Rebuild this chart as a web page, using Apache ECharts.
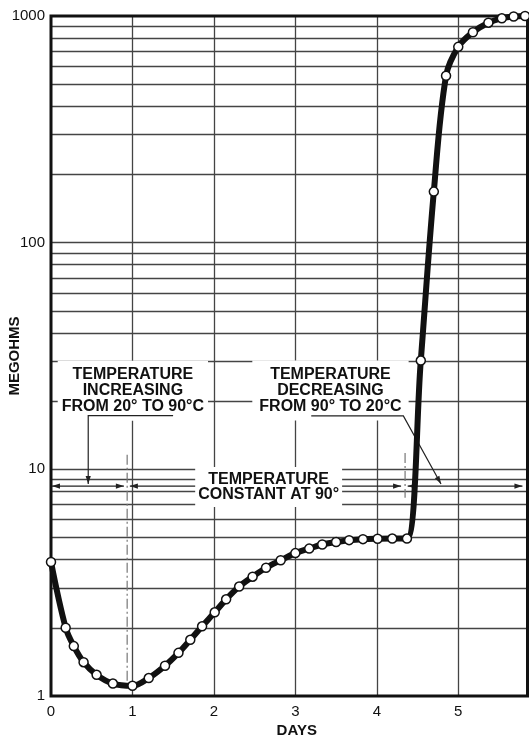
<!DOCTYPE html>
<html><head><meta charset="utf-8">
<script src="https://cdn.jsdelivr.net/npm/echarts@6/dist/echarts.min.js"></script>
<style>html,body{margin:0;padding:0;background:#fff}#c{width:529px;height:737px}</style>
</head><body><div id="c"></div>
<script>
// ---- data ----
const days = [0, 0.18, 0.28, 0.40, 0.56, 0.76, 1.00, 1.20, 1.40, 1.565, 1.71, 1.855, 2.01, 2.15, 2.31, 2.475, 2.64, 2.82, 3.00, 3.17, 3.33, 3.50, 3.66, 3.83, 4.01, 4.19, 4.37, 4.54, 4.70, 4.85, 5.00, 5.18, 5.37, 5.535, 5.68, 5.82];
const megohms = [3.9, 2.0, 1.66, 1.41, 1.24, 1.135, 1.11, 1.2, 1.36, 1.55, 1.77, 2.03, 2.34, 2.67, 3.04, 3.36, 3.68, 3.97, 4.27, 4.47, 4.66, 4.78, 4.87, 4.92, 4.94, 4.95, 4.95, 30.2, 168, 545, 731, 848, 934, 977, 995, 1000];
const xTicks = [0, 1, 2, 3, 4, 5];
const yTicks = [1, 10, 100, 1000];
const gridYValues = [2,3,4,5,6,7,8,9,10,20,30,40,50,60,70,80,90,100,200,300,400,500,600,700,800,900];
const gridXValues = [1, 2, 3, 4, 5];
const noteIncreasing = 'TEMPERATURE\nINCREASING\nFROM 20° TO 90°C';
const noteDecreasing = 'TEMPERATURE\nDECREASING\nFROM 90° TO 20°C';
const noteConstant = 'TEMPERATURE\nCONSTANT AT 90°';

const FONT = '"Liberation Sans", Arial, Helvetica, sans-serif';
const chart = echarts.init(document.getElementById('c'), null, {renderer: 'canvas'});

chart.setOption({
  animation: false,
  backgroundColor: '#fff',
  grid: {left: 51, right: 1.5, top: 16, bottom: 41, show: true, borderColor: '#111', borderWidth: 3, z: 2,
    containLabel: false, outerBoundsMode: 'none'},
  xAxis: {
    type: 'value', min: 0, max: 5.85, interval: 1,
    axisLine: {show: false}, axisTick: {show: false}, splitLine: {show: false},
    axisLabel: {
      fontFamily: FONT, fontSize: 15, color: '#111', margin: 8, showMaxLabel: false,
      formatter: v => xTicks.includes(v) ? String(v) : ''
    },
    name: 'DAYS', nameLocation: 'middle', nameGap: 27, nameMoveOverlap: false,
    nameTextStyle: {fontFamily: FONT, fontSize: 15, fontWeight: 'bold', color: '#111', padding: [0, 0, 0, 15]}
  },
  yAxis: {
    type: 'log', logBase: 10, min: 1, max: 1000,
    axisLine: {show: false}, axisTick: {show: false}, splitLine: {show: false}, minorTick: {show: false},
    axisLabel: {
      fontFamily: FONT, fontSize: 15, color: '#111', margin: 6,
      formatter: v => { const r = Math.round(v); return yTicks.includes(r) ? String(r) : ''; }
    },
    name: 'MEGOHMS', nameLocation: 'middle', nameGap: 29, nameMoveOverlap: false, nameRotate: 90,
    nameTextStyle: {fontFamily: FONT, fontSize: 15, fontWeight: 'bold', color: '#111'}
  },
  series: [{
    type: 'line',
    data: days.map((d, i) => [d, megohms[i]]),
    smooth: 0.35,
    symbol: 'circle', symbolSize: 9, showSymbol: true, clip: false, z: 10,
    lineStyle: {color: '#111', width: 6, cap: 'round', join: 'round'},
    itemStyle: {color: '#fff', borderColor: '#111', borderWidth: 1.5},
    emphasis: {disabled: true},
    markLine: {
      silent: true, symbol: 'none', z: 1, animation: false,
      label: {show: false},
      lineStyle: {color: '#444', width: 1.3, type: 'solid'},
      emphasis: {disabled: true},
      data: gridYValues.map(v => ({yAxis: v})).concat(gridXValues.map(d => ({xAxis: d})))
    }
  }]
});

// ---- annotations, placed in data coordinates ----
const P = (d, v) => chart.convertToPixel({gridIndex: 0}, [d, v]);
const STROKE = '#222';
function head(tip, from, len, w) {
  len = len || 8; w = w || 2.6;
  const dx = tip[0] - from[0], dy = tip[1] - from[1];
  const L = Math.hypot(dx, dy) || 1;
  const ux = dx / L, uy = dy / L, nx = -uy, ny = ux;
  const bx = tip[0] - ux * len, by = tip[1] - uy * len;
  return {type: 'polygon', z: 5, silent: true,
    shape: {points: [tip, [bx + nx * w, by + ny * w], [bx - nx * w, by - ny * w]]},
    style: {fill: STROKE}};
}
function pline(points, extra) {
  return Object.assign({type: 'polyline', z: 5, silent: true, shape: {points: points},
    style: {stroke: STROKE, lineWidth: 1.2, fill: null}}, extra || {});
}
function note(text, c, lh, pad) {
  return {type: 'text', z: 3, silent: true, x: c[0], y: c[1],
    style: {text: text, fontFamily: FONT, fontSize: 16, fontWeight: 'bold', fill: '#111',
      align: 'center', verticalAlign: 'middle', lineHeight: lh, backgroundColor: '#fff', padding: pad}};
}
const arrowV = 8.44;
const g = [];
// notes
g.push(note(noteIncreasing, P(1.005, 22.2), 16, [6, 4]));
g.push(note(noteDecreasing, P(3.431, 22.3), 16, [6, 7]));
g.push(note(noteConstant, P(2.672, 8.36), 15, [5, 3]));
// double-headed arrows on the constant-temperature line
[[0.012, 0.895], [0.968, 4.298], [4.379, 5.788]].forEach(([a, b]) => {
  const pa = P(a, arrowV), pb = P(b, arrowV);
  g.push(pline([pa, pb], {z: 2.5}));
  g.push(head(pa, pb)); g.push(head(pb, pa));
});
// leader 1
{
  const p1 = P(1.499, 17.25), p2 = P(0.457, 17.25), p3 = P(0.457, 8.62);
  g.push(pline([p1, p2, p3])); g.push(head(p3, p2));
}
// leader 2
{
  const p1 = P(3.195, 17.2), p2 = P(4.326, 17.2), p3 = P(4.788, 8.62);
  g.push(pline([p1, p2, p3])); g.push(head(p3, p2));
}
// dash-dot markers of the temperature changes
g.push(pline([P(0.935, 11.6), P(0.935, 1.08)], {style: {stroke: '#777', lineWidth: 1.2, fill: null, lineDash: [10, 3, 2, 3]}}));
g.push(pline([P(4.347, 11.8), P(4.347, 7.5)], {style: {stroke: '#777', lineWidth: 1.2, fill: null, lineDash: [10, 3, 2, 3]}}));

chart.setOption({graphic: g});
</script>
</body></html>
